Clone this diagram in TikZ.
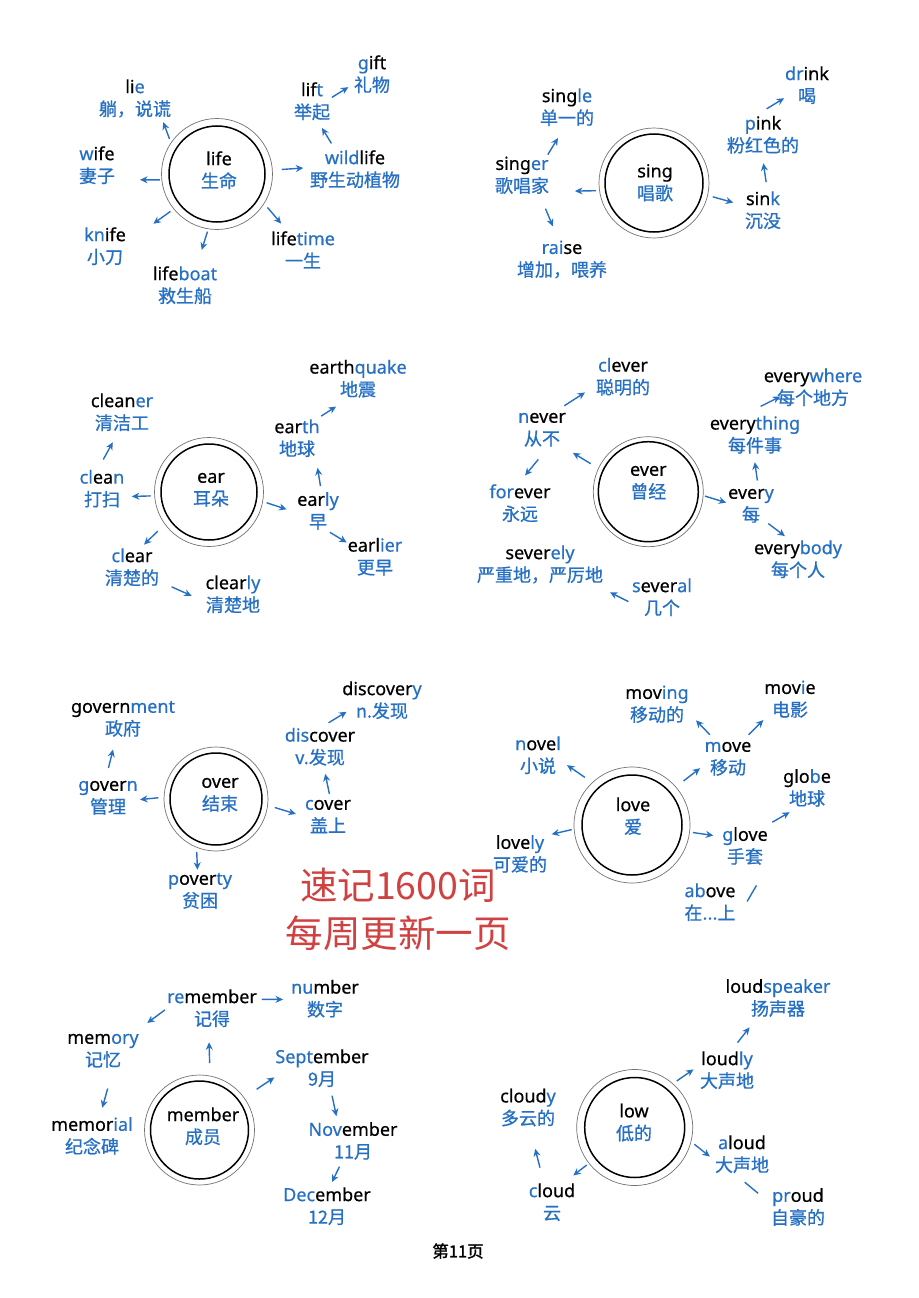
\documentclass[tikz,border=0pt]{standalone}
\usepackage{fontspec}
\setmainfont{Noto Sans}[FakeBold=0.5,AutoFakeBold=0.5]
\newfontfamily\cjk{Noto Sans CJK SC}[FakeBold=0.8,AutoFakeBold=0.8]
\newfontfamily\cjkplain{Noto Sans CJK SC}
\newfontfamily\cjkheavy{Noto Sans CJK SC}[FakeBold=1.6,AutoFakeBold=1.6]
\usetikzlibrary{arrows.meta}
\definecolor{wblue}{RGB}{38,112,196}
\definecolor{ringgray}{RGB}{115,115,115}
\definecolor{promored}{RGB}{208,66,66}
\newcommand\bl[1]{\textcolor{wblue}{#1}}
% English word on top, blue Chinese gloss below
\newcommand\wordpair[2]{\rule{0pt}{13pt}\bfseries#1\\{\cjk\bfseries\color{wblue}#2\rule[-3pt]{0pt}{3pt}}}
\tikzset{
  arr/.style={draw=wblue, line width=1.4pt, -{Stealth[length=7.5pt,width=7pt]}},
  link/.style={draw=wblue, line width=1.4pt},
  word/.style={align=center, inner sep=1pt, outer sep=0pt,
    font=\fontsize{18}{22.5}\selectfont},
  ringout/.style={circle, draw=ringgray, line width=0.7pt, inner sep=0pt,
    outer sep=0pt, minimum size=#1},
  ringin/.style={circle, draw=black, line width=1.5pt, inner sep=0pt,
    outer sep=0pt, minimum size=#1},
  gap/.style 2 args={shorten <=#1, shorten >=#2},
  promo/.style={align=center, text=promored, inner sep=0pt,
    font=\cjkplain\fontsize{37.5}{48}\selectfont},
}
\begin{document}
\begin{tikzpicture}[x=1pt,y=-1pt]
\useasboundingbox[fill=white] (0,0) rectangle (918,1298);

% ---------- life ----------
\node[ringout=111pt] (lifeC) at (217,174) {};
\node[ringin=96pt] (lifeI) at (217,174) {};
\node[word] (lifeT) at (219,171) {\wordpair{life}{生命}};
\node[word] (lie) at (135,99) {\wordpair{li\bl{e}}{躺，说谎}};
\node[word] (wife) at (97,166) {\wordpair{\bl{w}ife}{妻子}};
\node[word] (knife) at (105,247) {\wordpair{\bl{kn}ife}{小刀}};
\node[word] (lifeboat) at (185,286) {\wordpair{life\bl{boat}}{救生船}};
\node[word] (lifetime) at (303,251) {\wordpair{life\bl{time}}{一生}};
\node[word] (wildlife) at (355,170) {\wordpair{\bl{wild}life}{野生动植物}};
\node[word] (lift) at (312,102) {\wordpair{lif\bl{t}}{举起}};
\node[word] (gift) at (372,75) {\wordpair{\bl{g}ift}{礼物}};
\draw[arr,gap={4.3pt}{2.8pt}] (lifeC.146) -- (lie.-37);
\draw[arr,gap={2pt}{24pt}] (lifeC.186) -- (wife.-36);
\draw[arr,gap={4.2pt}{32.6pt}] (lifeC.219) -- (knife.11);
\draw[arr,gap={2.9pt}{16.2pt}] (lifeC.261) -- (lifeboat.60);
\draw[arr,gap={5.3pt}{8.8pt}] (lifeC.-32.5) -- (lifetime.128.5);
\draw[arr,gap={9.4pt}{5.7pt}] (lifeC.4.4) -- (wildlife.177.6);
\draw[arr,gap={7pt}{6.2pt}] (wildlife.134.6) -- (lift.-72);
\draw[arr,gap={1pt}{5.5pt}] (lift.12.7) -- (gift.206.6);

% ---------- sing ----------
\node[ringout=110pt] (singC) at (654,183) {};
\node[ringin=98pt] (singI) at (654,183) {};
\node[word] (singT) at (655,183.5) {\wordpair{sing}{唱歌}};
\node[word] (single) at (567,108) {\wordpair{sing\bl{le}}{单一的}};
\node[word] (singer) at (522,176) {\wordpair{sing\bl{er}}{歌唱家}};
\node[word] (raise) at (562,260) {\wordpair{\bl{rai}se}{增加，喂养}};
\node[word] (sink) at (763,211) {\wordpair{sin\bl{k}}{沉没}};
\node[word] (pink) at (763,135.5) {\wordpair{\bl{p}ink}{粉红色的}};
\node[word] (drink) at (807,86) {\wordpair{\bl{dr}ink}{喝}};
\draw[arr,gap={3.6pt}{25pt}] (singC.188.5) -- (singer.-29.3);
\draw[arr,gap={1.2pt}{11pt}] (singer.39) -- (single.261.7);
\draw[arr,gap={13.3pt}{14.4pt}] (singer.-48.2) -- (raise.100.5);
\draw[arr,gap={5.3pt}{11.1pt}] (singC.-13.1) -- (sink.164.7);
\draw[arr,gap={8.4pt}{7.3pt}] (sink.78.4) -- (pink.268);
\draw[arr,gap={11.6pt}{0pt}] (pink.107) -- (drink.208.2);

% ---------- ear ----------
\node[ringout=109pt] (earC) at (209,492) {};
\node[ringin=96pt] (earI) at (209,492) {};
\node[word] (earT) at (211,489) {\wordpair{ear}{耳朵}};
\node[word] (cleaner) at (122,413) {\wordpair{clean\bl{er}}{清洁工}};
\node[word] (clean) at (102,489.5) {\wordpair{\bl{cl}ea\bl{n}}{打扫}};
\node[word] (clear) at (132,568) {\wordpair{\bl{cl}ear}{清楚的}};
\node[word] (clearly) at (233,595) {\wordpair{clear\bl{ly}}{清楚地}};
\node[word] (earth) at (297,439) {\wordpair{ear\bl{th}}{地球}};
\node[word] (earthquake) at (358,379.5) {\wordpair{earth\bl{quake}}{地震}};
\node[word] (early) at (318,511.7) {\wordpair{ear\bl{ly}}{早}};
\node[word] (earlier) at (375,557.5) {\wordpair{earl\bl{ier}}{更早}};
\draw[arr,gap={4pt}{6.5pt}] (earC.184.6) -- (clean.-17.2);
\draw[arr,gap={10.8pt}{9.9pt}] (clean.101) -- (cleaner.258.7);
\draw[arr,gap={10.1pt}{4pt}] (earC.216) -- (clear.66.7);
\draw[arr,gap={12.8pt}{14.2pt}] (clear.-26.9) -- (clearly.193.3);
\draw[arr,gap={4.2pt}{10.2pt}] (earC.-10.5) -- (early.182);
\draw[arr,gap={5.1pt}{8.4pt}] (early.81.7) -- (earth.-47.5);
\draw[arr,gap={4.3pt}{12pt}] (earth.45.9) -- (earthquake.240.8);
\draw[arr,gap={0pt}{0pt}] (early.-60.5) -- (earlier.152);

% ---------- ever ----------
\node[ringout=110pt] (everC) at (648.3,491.7) {};
\node[ringin=100pt] (everI) at (648.3,491.7) {};
\node[word] (everT) at (648.3,482) {\wordpair{ever}{曾经}};
\node[word] (clever) at (623,377.5) {\wordpair{\bl{cl}ever}{聪明的}};
\node[word] (never) at (542,429) {\wordpair{\bl{n}ever}{从不}};
\node[word] (forever) at (520,504) {\wordpair{\bl{for}ever}{永远}};
\node[word] (severely) at (540,565) {\wordpair{sever\bl{ely}}{严重地，严厉地}};
\node[word] (several) at (662,598) {\wordpair{\bl{s}ever\bl{al}}{几个}};
\node[word] (every) at (751,505) {\wordpair{ever\bl{y}}{每}};
\node[word] (everybody) at (798,560) {\wordpair{every\bl{body}}{每个人}};
\node[word] (everything) at (755,435.5) {\wordpair{every\bl{thing}}{每件事}};
\node[word] (everywhere) at (813,388) {\wordpair{every\bl{where}}{每个地方}};
\draw[arr,gap={9.1pt}{7.1pt}] (everC.155.4) -- (never.-39.3);
\draw[arr,gap={5.6pt}{11.8pt}] (never.49.1) -- (clever.197.6);
\draw[arr,gap={13.2pt}{10.2pt}] (never.-77.3) -- (forever.94);
\draw[arr,gap={1.9pt}{1pt}] (everC.-4.3) -- (every.175.4);
\draw[arr,gap={4.3pt}{6.2pt}] (every.71.2) -- (everything.267.7);
\draw[arr,gap={19.1pt}{-19.4pt}] (everything.119.5) -- (everywhere.199.3);
\draw[arr,gap={-2.8pt}{5.4pt}] (every.-46.6) -- (everybody.113.5);
\draw[arr,gap={3pt}{15pt}] (several.189.2) -- (severely.-20);

% ---------- over ----------
\node[ringout=104pt] (overC) at (216,799) {};
\node[ringin=92pt] (overI) at (216,799) {};
\node[word] (overT) at (220,794) {\wordpair{over}{结束}};
\node[word] (government) at (123,719) {\wordpair{govern\bl{ment}}{政府}};
\node[word] (govern) at (108,797) {\wordpair{\bl{g}over\bl{n}}{管理}};
\node[word] (poverty) at (200,891) {\wordpair{\bl{p}over\bl{ty}}{贫困}};
\node[word] (cover) at (328,816) {\wordpair{\bl{c}over}{盖上}};
\node[word] (discover) at (320,747.5) {\wordpair{\bl{dis}cover}{v.发现}};
\node[word] (discovery) at (382,701) {\wordpair{discover\bl{y}}{n.发现}};
\draw[arr,gap={9pt}{10.6pt}] (govern.95.7) -- (government.250.7);
\draw[arr,gap={5.7pt}{1.3pt}] (overC.178.3) -- (govern.-5.2);
\draw[arr,gap={4.7pt}{1pt}] (overC.248.3) -- (poverty.97.4);
\draw[arr,gap={7.5pt}{8.5pt}] (overC.-7.4) -- (cover.181.9);
\draw[arr,gap={2pt}{5.9pt}] (cover.85.1) -- (discover.-79.2);
\draw[arr,gap={7.9pt}{-6.2pt}] (discover.85.4) -- (discovery.199);

% ---------- love ----------
\node[ringout=116pt] (loveC) at (632,825) {};
\node[ringin=100pt] (loveI) at (632,825) {};
\node[word] (loveT) at (633,817) {\wordpair{love}{爱}};
\node[word] (novel) at (538,756) {\wordpair{\bl{n}ove\bl{l}}{小说}};
\node[word] (lovely) at (520,854.7) {\wordpair{love\bl{ly}}{可爱的}};
\node[word] (moving) at (657,705) {\wordpair{mov\bl{ing}}{移动的}};
\node[word] (move) at (728,758) {\wordpair{\bl{m}ove}{移动}};
\node[word] (movie) at (790,700) {\wordpair{mov\bl{i}e}{电影}};
\node[word] (globe) at (807,788.7) {\wordpair{glo\bl{b}e}{地球}};
\node[word] (glove) at (745,846.7) {\wordpair{\bl{g}love}{手套}};
\node[word] (above) at (710,903) {\wordpair{\bl{ab}ove}{在...上}};
\draw[arr,gap={9.2pt}{6.4pt}] (loveC.133.2) -- (novel.-13.7);
\draw[arr,gap={2.5pt}{3.8pt}] (loveC.184.1) -- (lovely.35.3);
\draw[arr,gap={9.8pt}{4.5pt}] (loveC.41.6) -- (move.197.8);
\draw[arr,gap={4.2pt}{9.1pt}] (move.127) -- (moving.-15.8);
\draw[arr,gap={4.3pt}{0pt}] (move.49.3) -- (movie.217.6);
\draw[arr,gap={3.3pt}{8pt}] (loveC.-7.8) -- (glove.157.8);
\draw[arr,gap={7.8pt}{5.8pt}] (glove.45) -- (globe.239);
\draw[link,gap={21pt}{21pt}] (glove.-43.3) -- (above.-32.7);

% ---------- member ----------
\node[ringout=110pt] (memberC) at (199.5,1130) {};
\node[ringin=98pt] (memberI) at (199.5,1130) {};
\node[word] (memberT) at (203,1127) {\wordpair{member}{成员}};
\node[word] (remember) at (212,1009) {\wordpair{\bl{re}member}{记得}};
\node[word] (number) at (325,999.5) {\wordpair{\bl{nu}mber}{数字}};
\node[word] (memory) at (103,1050) {\wordpair{mem\bl{ory}}{记忆}};
\node[word] (memorial) at (92,1136.7) {\wordpair{memor\bl{ial}}{纪念碑}};
\node[word] (September) at (322,1069) {\wordpair{\bl{Sept}ember}{9月}};
\node[word] (November) at (353,1141.7) {\wordpair{\bl{Nov}ember}{11月}};
\node[word] (December) at (327,1207) {\wordpair{\bl{Dec}ember}{12月}};
\draw[arr,gap={12.8pt}{12.7pt}] (memberC.79.6) -- (remember.261.5);
\draw[arr,gap={3.9pt}{7.1pt}] (remember.12) -- (number.180);
\draw[arr,gap={1.5pt}{11.4pt}] (remember.180) -- (memory.30.1);
\draw[arr,gap={19pt}{8.7pt}] (memory.-64.8) -- (memorial.69.7);
\draw[arr,gap={15.2pt}{0pt}] (memberC.36.4) -- (September.190.2);
\draw[arr,gap={6.2pt}{5.1pt}] (September.-67.5) -- (November.127);
\draw[arr,gap={4.8pt}{4.8pt}] (November.241.4) -- (December.82.6);

% ---------- low ----------
\node[ringout=116pt] (lowC) at (634.7,1127.5) {};
\node[ringin=100pt] (lowI) at (634.7,1127.5) {};
\node[word] (lowT) at (634,1123.3) {\wordpair{low}{低的}};
\node[word] (loudspeaker) at (778,998.7) {\wordpair{loud\bl{speaker}}{扬声器}};
\node[word] (loudly) at (727,1071) {\wordpair{loud\bl{ly}}{大声地}};
\node[word] (cloudy) at (528,1108.3) {\wordpair{cloud\bl{y}}{多云的}};
\node[word] (cloud) at (552,1203) {\wordpair{\bl{c}loud}{云}};
\node[word] (aloud) at (742,1155) {\wordpair{\bl{a}loud}{大声地}};
\node[word] (proud) at (798,1207.7) {\wordpair{\bl{pr}oud}{自豪的}};
\draw[arr,gap={4.9pt}{6.7pt}] (lowC.49) -- (loudly.169.5);
\draw[arr,gap={9.9pt}{10.3pt}] (loudly.78.4) -- (loudspeaker.223.9);
\draw[arr,gap={4.3pt}{5.4pt}] (lowC.-14.7) -- (aloud.190.7);
\draw[link,gap={10.2pt}{15.5pt}] (aloud.256.8) -- (proud.171.5);
\draw[arr,gap={2.9pt}{11.3pt}] (lowC.218) -- (cloud.59.5);
\draw[arr,gap={15.2pt}{20.6pt}] (cloud.112.5) -- (cloudy.-84.3);

% ---------- notice and page number ----------
\node[promo] (notice) at (398,909) {速记1600词\\每周更新一页};
\node[inner sep=0pt, font=\cjkheavy\fontsize{16.5}{18}\selectfont] (pageno) at (458,1251) {第11页};
\end{tikzpicture}
\end{document}
